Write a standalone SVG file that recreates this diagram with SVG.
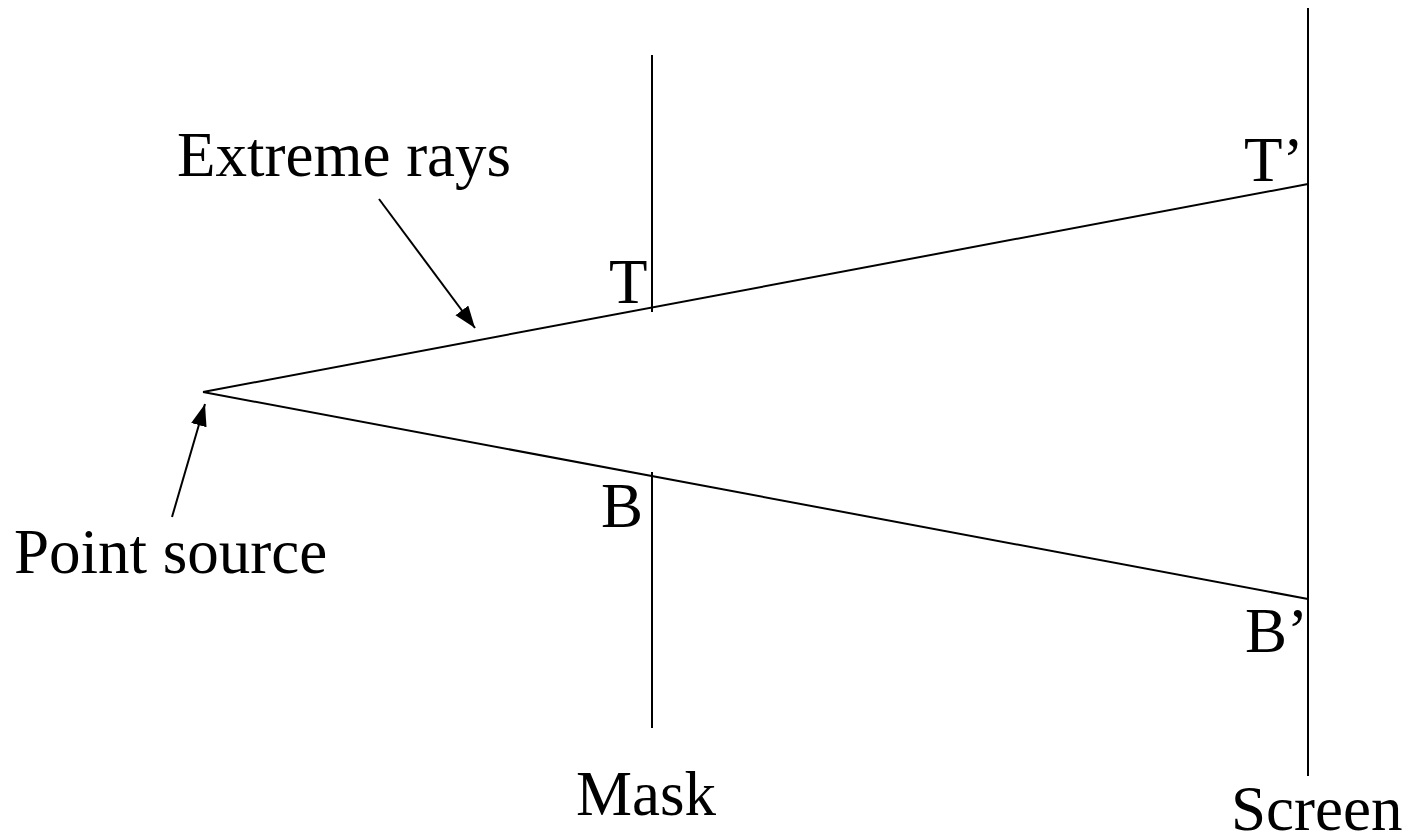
<svg xmlns="http://www.w3.org/2000/svg" width="1412" height="837" viewBox="0 0 1412 837">
<style>
.ln{stroke:#000;stroke-width:2;fill:none}
.lbl{font-family:"Liberation Serif","Times New Roman",serif;font-size:63px;fill:#000}
</style>
<defs>
<marker id="ah" markerUnits="userSpaceOnUse" markerWidth="24" markerHeight="18" refX="22" refY="8" orient="auto">
<path d="M0,0 L22,8 L0,16 Z" fill="#000"/>
</marker>
</defs>
<rect width="1412" height="837" fill="#fff"/>
<g id="mask">
<line class="ln" x1="652" y1="55" x2="652" y2="312"/>
<line class="ln" x1="652" y1="472" x2="652" y2="728"/>
<text class="lbl" x="576" y="815">Mask</text>
</g>
<g id="screen">
<line class="ln" x1="1308" y1="8" x2="1308" y2="776"/>
<text class="lbl" x="1231" y="830">Screen</text>
</g>
<g id="source">
<text class="lbl" x="14" y="573">Point source</text>
</g>
<g id="extreme-rays-label">
<text class="lbl" x="177" y="176">Extreme rays</text>
</g>
<g id="labels">
<text class="lbl" x="609" y="303">T</text>
<text class="lbl" x="601" y="527">B</text>
<text class="lbl" x="1244" y="181">T’</text>
<text class="lbl" x="1245" y="652">B’</text>
</g>
<g id="connectors">
<line class="ln" x1="203" y1="392" x2="1308" y2="184"/>
<line class="ln" x1="203" y1="392" x2="1308" y2="599"/>
<line class="ln" x1="379" y1="199" x2="475" y2="328" marker-end="url(#ah)"/>
<line class="ln" x1="172" y1="517" x2="205" y2="404" marker-end="url(#ah)"/>
</g>
</svg>
